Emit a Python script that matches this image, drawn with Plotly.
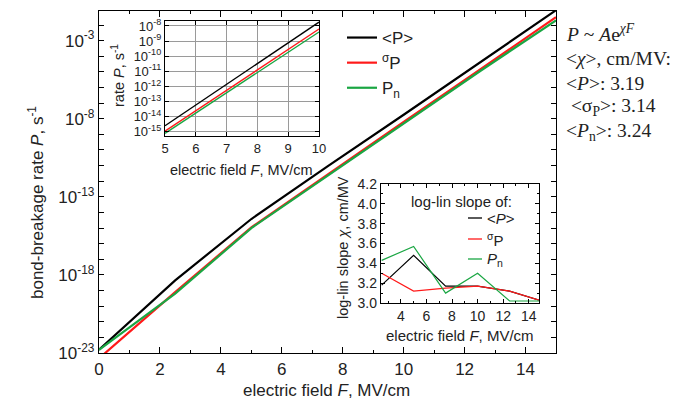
import plotly.graph_objects as go

# ---------------- data ----------------
# main plot: electric field F (MV/cm) and bond-breakage rate P (s^-1)
F_main = [0, 2.5, 5, 7.5, 10, 12.5, 15]
P_mean = [1.6e-23, 4.5e-19, 3.8e-15, 8.9e-12, 1.8e-8, 4.0e-5, 8.9e-2]
P_sigma = [4.5e-24, 7.9e-20, 1.1e-15, 2.8e-12, 6.3e-9, 1.4e-5, 3.2e-2]
P_n = [1.6e-23, 6.3e-20, 1.0e-15, 2.2e-12, 5.0e-9, 1.1e-5, 2.0e-2]

# inset 1 (zoom 5..10 MV/cm)
F_in1 = [5, 10]
P_mean_in1 = [2.5e-15, 1.8e-8]
P_sigma_in1 = [1.1e-15, 6.3e-9]
P_n_in1 = [7.9e-16, 4.0e-9]

# inset 2: log-lin slope chi (cm/MV)
F_in2 = [2.5, 5, 7.5, 10, 12.5, 15]
chi_mean = [3.18, 3.48, 3.17, 3.17, 3.12, 3.02]
chi_sigma = [3.30, 3.12, 3.15, 3.17, 3.12, 3.02]
chi_n = [3.43, 3.57, 3.10, 3.30, 3.02, 3.02]

series_names_main = ["&lt;P&gt;", "<sup>σ</sup>P", "P<sub>n</sub>"]
series_names_in2 = ["&lt;<i>P</i>&gt;", "<sup>σ</sup>P", "<i>P</i><sub>n</sub>"]
colors = ["#000000", "#ff1a1a", "#1aa643"]

main_decades = list(range(-23, 0))
main_labelled = [-23, -18, -13, -8, -3]
in1_decades = list(range(-15, -7))

right_text = [
    "<i>P</i> ~ <i>A</i>e<sup><i>χF</i></sup>",
    "&lt;<i>χ</i>&gt;, cm/MV:",
    "&lt;<i>P</i>&gt;: 3.19",
    " &lt;σ<sub>P</sub>&gt;: 3.14",
    "&lt;<i>P</i><sub>n</sub>&gt;: 3.24",
]

W, H = 680, 401
FONT = "Liberation Sans, Arial, sans-serif"
SERIF = "Liberation Serif, Times New Roman, serif"


def px_x(p):
    return p / W


def px_y(p):
    return (H - p) / H


fig = go.Figure()

# main traces
for ys, name, c in zip([P_mean, P_sigma, P_n], series_names_main, colors):
    fig.add_trace(go.Scatter(x=F_main, y=ys, mode="lines", name=name,
                             line=dict(color=c, width=2.2), xaxis="x", yaxis="y",
                             legend="legend"))

# inset 1 traces
for ys, c in zip([P_mean_in1, P_sigma_in1, P_n_in1], colors):
    fig.add_trace(go.Scatter(x=F_in1, y=ys, mode="lines", showlegend=False,
                             line=dict(color=c, width=1.4), xaxis="x2", yaxis="y2"))

# inset 2 traces
for ys, c in zip([chi_mean, chi_sigma, chi_n], colors):
    fig.add_trace(go.Scatter(x=F_in2, y=ys, mode="lines", showlegend=False,
                             line=dict(color=c, width=1.2), xaxis="x3", yaxis="y3"))

axis_common = dict(showline=True, linecolor="black", linewidth=1.3, mirror="allticks",
                   ticks="inside", tickcolor="black", zeroline=False, automargin=False)

fig.update_layout(
    width=W, height=H, autosize=False,
    margin=dict(l=0, r=0, t=0, b=0, autoexpand=False),
    paper_bgcolor="white", plot_bgcolor="white",
    font=dict(family=FONT, color="#222222"),
    xaxis=dict(domain=[px_x(91), px_x(548)], range=[0, 15], tick0=0, dtick=2,
               ticklen=6, tickwidth=1.2, showgrid=False,
               minor=dict(ticks="inside", dtick=1, ticklen=3, tickcolor="black", showgrid=False),
               tickfont=dict(size=17), anchor="y", **axis_common),
    yaxis=dict(domain=[px_y(345), px_y(3)], type="log", range=[-23, -1.1],
               tickvals=[10.0 ** k for k in main_labelled],
               ticktext=["10<sup>%d</sup>" % k for k in main_labelled],
               minor=dict(ticks="inside", tickvals=[10.0 ** k for k in main_decades],
                          ticklen=5, tickcolor="black", showgrid=False),
               ticklen=5, tickwidth=1.2, showgrid=False, tickfont=dict(size=17),
               anchor="x", **axis_common),
    xaxis2=dict(domain=[px_x(157), px_x(311)], range=[5, 10], dtick=1, ticklen=4,
                showgrid=True, gridcolor="#9a9a9a", gridwidth=1, tickfont=dict(size=13),
                anchor="y2", **axis_common),
    yaxis2=dict(domain=[px_y(128), px_y(13)], type="log", range=[-15.28, -7.67],
                tickvals=[10.0 ** k for k in in1_decades],
                ticktext=["10<sup>%d</sup>" % k for k in in1_decades],
                ticklen=4, showgrid=True, gridcolor="#9a9a9a", gridwidth=1,
                tickfont=dict(size=13), anchor="x2", **axis_common),
    xaxis3=dict(domain=[px_x(373), px_x(531)], range=[2.45, 14.8], tick0=0, dtick=2,
                ticklen=4, showgrid=False,
                minor=dict(ticks="inside", dtick=1, ticklen=2, tickcolor="black"),
                tickfont=dict(size=14), anchor="y3", **axis_common),
    yaxis3=dict(domain=[px_y(295), px_y(176)], range=[3.0, 4.2], dtick=0.2,
                tickformat=".1f", ticklen=4, showgrid=False,
                minor=dict(ticks="inside", dtick=0.1, ticklen=2, tickcolor="black"),
                tickfont=dict(size=14), anchor="x3", **axis_common),
    legend=dict(x=px_x(334), y=px_y(12), xanchor="left", yanchor="top",
                bgcolor="rgba(0,0,0,0)", font=dict(size=17), tracegroupgap=0),
)

annotations = [
    dict(text="electric field <i>F</i>, MV/cm", x=px_x(318), y=px_y(382),
         font=dict(size=17)),
    dict(text="bond-breakage rate <i>P</i>, s<sup>-1</sup>", x=px_x(28), y=px_y(195),
         textangle=-90, font=dict(size=17)),
    dict(text="electric field <i>F</i>, MV/cm", x=px_x(233), y=px_y(162),
         font=dict(size=14.5)),
    dict(text="rate <i>P</i>, s<sup>-1</sup>", x=px_x(110), y=px_y(68),
         textangle=-90, font=dict(size=14.5)),
    dict(text="electric field <i>F</i>, MV/cm", x=px_x(452), y=px_y(327),
         font=dict(size=15)),
    dict(text="log-lin slope <i>χ</i>, cm/MV", x=px_x(335), y=px_y(240),
         textangle=-90, font=dict(size=14.5)),
    dict(text="log-lin slope of:", x=px_x(453), y=px_y(193), font=dict(size=15)),
]

# inset-2 legend (short sample lines + labels)
leg2_y = [210, 231, 251]
shapes = []
for name, c, yy in zip(series_names_in2, colors, leg2_y):
    shapes.append(dict(type="line", xref="paper", yref="paper",
                       x0=px_x(460), x1=px_x(474), y0=px_y(yy), y1=px_y(yy),
                       line=dict(color=c, width=1.3)))
    annotations.append(dict(text=name, x=px_x(477), y=px_y(yy), xanchor="left",
                            font=dict(size=15)))

right_y = [25, 50, 75, 99, 124]
for t, yy in zip(right_text, right_y):
    annotations.append(dict(text=t, x=px_x(556), y=px_y(yy), xanchor="left",
                            font=dict(size=19.5, family=SERIF, color="#222222")))
for a in annotations:
    a.setdefault("xanchor", "center")
    a.update(xref="paper", yref="paper", yanchor="middle", showarrow=False)
fig.update_layout(annotations=annotations, shapes=shapes)

fig.write_html("out.html")
